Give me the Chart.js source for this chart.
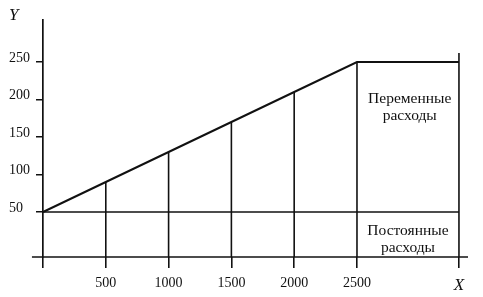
<!DOCTYPE html>
<html>
<head>
<meta charset="utf-8">
<script src="https://cdn.jsdelivr.net/npm/chart.js@4/dist/chart.umd.min.js"></script>
<style>
  body { margin: 0; background: #fff; }
  #wrap { width: 483px; height: 297px; }
</style>
</head>
<body>
<div id="wrap"><canvas id="chart"></canvas></div>
<script>
// Output volume (X) and costs (Y)
const outputs = [0, 500, 1000, 1500, 2000, 2500];
const totalCosts = [50, 90, 130, 170, 210, 250];
const fixedCost = 50;
const yTickValues = [50, 100, 150, 200, 250];

// axis ends (in data units)
const xEnd = 3312;   // the "X" mark
const xMax = 3384;
const yMin = -10;
const yMax = 306;
const xAxisStart = -88;
const rightLineTop = 262;

const ink = '#111';
const serif = "'Liberation Serif', 'DejaVu Serif', serif";

// text blocks: [x value, baseline y value of first line, lines]
const notes = [
  [2920, 195, ['Переменные', 'расходы']],
  [2906, 19, ['Постоянные', 'расходы']]
];

function line(points, width) {
  return {
    data: points,
    borderColor: ink,
    borderWidth: width,
    pointRadius: 0,
    tension: 0,
    clip: false
  };
}

const datasets = [];
// total costs: sloped line then flat to the right edge
datasets.push(line(outputs.map((x, i) => ({ x: x, y: totalCosts[i] }))
  .concat([{ x: xEnd, y: totalCosts[totalCosts.length - 1] }]), 2));
// fixed costs
datasets.push(line([{ x: 0, y: fixedCost }, { x: xEnd, y: fixedCost }], 1.7));
// verticals at each output level
outputs.forEach((x, i) => {
  if (x === 0) return;
  datasets.push(line([{ x: x, y: yMin }, { x: x, y: totalCosts[i] }], 1.6));
});
// right border line at X
datasets.push(line([{ x: xEnd, y: yMin }, { x: xEnd, y: rightLineTop }], 1.6));
// X axis line
datasets.push(line([{ x: xAxisStart, y: yMin }, { x: xMax, y: yMin }], 1.7));

const notesPlugin = {
  id: 'notes',
  afterDatasetsDraw(chart) {
    const ctx = chart.ctx;
    const xs = chart.scales.x, ys = chart.scales.y;
    ctx.save();
    ctx.fillStyle = ink;
    ctx.font = '15.5px ' + serif;
    ctx.textAlign = 'center';
    ctx.textBaseline = 'alphabetic';
    notes.forEach(n => {
      const px = xs.getPixelForValue(n[0]);
      const py = ys.getPixelForValue(n[1]);
      n[2].forEach((t, i) => ctx.fillText(t, px, py + i * 17));
    });
    ctx.restore();
  }
};

new Chart(document.getElementById('chart'), {
  type: 'line',
  data: { datasets: datasets },
  plugins: [notesPlugin],
  options: {
    responsive: true,
    maintainAspectRatio: false,
    animation: false,
    layout: { padding: { left: 9, top: 20, right: 15, bottom: 0 } },
    plugins: { legend: { display: false }, tooltip: { enabled: false } },
    scales: {
      x: {
        type: 'linear',
        min: 0,
        max: xMax,
        afterBuildTicks: s => { s.ticks = outputs.concat([xEnd]).map(v => ({ value: v })); },
        afterFit: s => { s.height = 40; },
        border: { display: false },
        grid: {
          drawOnChartArea: false,
          drawTicks: true,
          tickLength: 11,
          color: ink,
          lineWidth: 1.6
        },
        ticks: {
          padding: 7,
          color: ink,
          maxRotation: 0,
          autoSkip: false,
          font: ctx => (ctx.tick && ctx.tick.value === xEnd)
            ? { family: serif, size: 17, style: 'italic' }
            : { family: serif, size: 14 },
          callback: v => v === xEnd ? 'X' : (v === 0 ? '' : String(v))
        }
      },
      y: {
        type: 'linear',
        min: yMin,
        max: yMax,
        afterBuildTicks: s => { s.ticks = yTickValues.concat([yMax]).map(v => ({ value: v })); },
        afterFit: s => { s.width = 34; },
        border: { display: true, color: ink, width: 1.7 },
        grid: {
          drawOnChartArea: false,
          drawTicks: true,
          tickLength: 7,
          lineWidth: 1.5,
          color: ctx => (ctx.tick && ctx.tick.value === yMax) ? 'rgba(0,0,0,0)' : ink
        },
        ticks: {
          crossAlign: 'far',
          labelOffset: -4,
          color: ink,
          autoSkip: false,
          font: ctx => (ctx.tick && ctx.tick.value === yMax)
            ? { family: serif, size: 17, style: 'italic' }
            : { family: serif, size: 14 },
          callback: v => v === yMax ? 'Y' : String(v)
        }
      }
    }
  }
});
</script>
</body>
</html>
